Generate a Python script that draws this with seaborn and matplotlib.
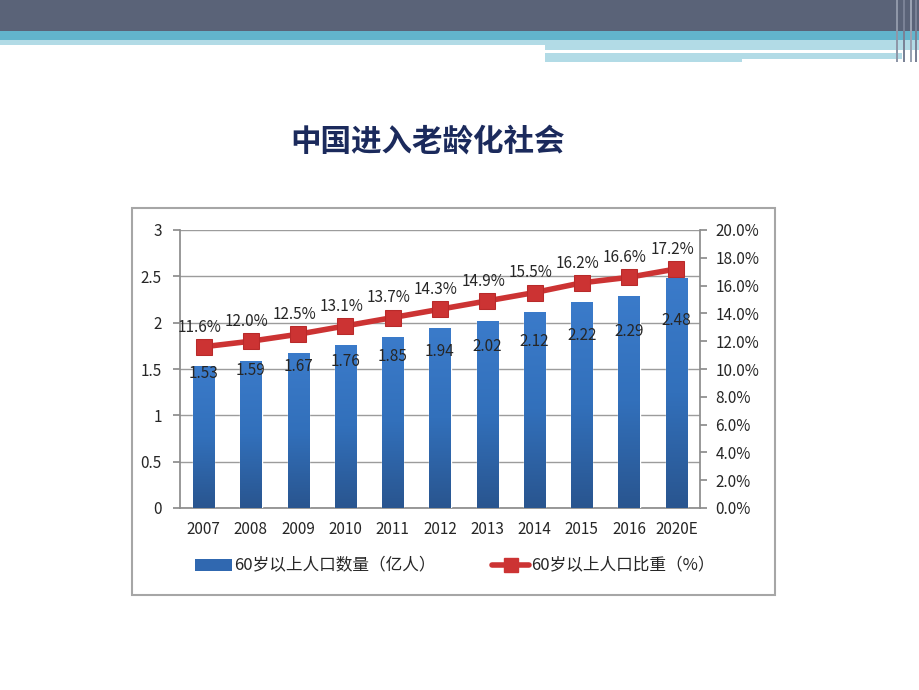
import numpy as np
import pandas as pd
import matplotlib
matplotlib.use("Agg")
import matplotlib.pyplot as plt
from matplotlib.patches import Rectangle
from matplotlib.colors import LinearSegmentedColormap
from matplotlib.lines import Line2D
import seaborn as sns

years = ["2007", "2008", "2009", "2010", "2011", "2012", "2013", "2014", "2015", "2016", "2020E"]
population = [1.53, 1.59, 1.67, 1.76, 1.85, 1.94, 2.02, 2.12, 2.22, 2.29, 2.48]
share_pct = [11.6, 12.0, 12.5, 13.1, 13.7, 14.3, 14.9, 15.5, 16.2, 16.6, 17.2]
left_ticks = [0, 0.5, 1, 1.5, 2, 2.5, 3]
right_ticks = [0, 2, 4, 6, 8, 10, 12, 14, 16, 18, 20]

title = "中国进入老龄化社会"
bar_name = "60岁以上人口数量（亿人）"
line_name = "60岁以上人口比重（%）"

df = pd.DataFrame({"year": years, "pop": population, "share": share_pct})

sns.set_theme(style="white")
plt.rcParams["font.family"] = ["Noto Sans CJK SC", "DejaVu Sans"]

W, H = 920, 690
fig = plt.figure(figsize=(9.2, 6.9), dpi=100)
fig.patch.set_facecolor("white")


def px_rect(x0, y0, x1, y1, color, z=0):
    # rectangle given in image pixels (y from top)
    fig.add_artist(Rectangle((x0 / W, 1 - y1 / H), (x1 - x0) / W, (y1 - y0) / H,
                             transform=fig.transFigure, facecolor=color,
                             edgecolor="none", zorder=z))


# slide header bands
px_rect(0, 0, 920, 31, "#5a6378")
px_rect(0, 31, 920, 40, "#62b4cc")
px_rect(0, 40, 545, 45, "#b2dbe6")
px_rect(545, 40, 920, 50, "#b2dbe6")
px_rect(545, 53, 742, 62, "#b2dbe6")
px_rect(742, 53, 902, 59, "#b2dbe6")
for xs, c in [(896, "#8f97a8"), (903, "#7a8296"), (910, "#9aa2b2"), (915, "#7a8296")]:
    px_rect(xs, 0, xs + 2, 62, c, z=1)

fig.text(428 / W, 1 - 141 / H, title, ha="center", va="center",
         fontsize=22, fontweight="bold", color="#1b2a5c")

# chart frame
fig.add_artist(Rectangle((132 / W, 1 - 595 / H), (775 - 132) / W, (595 - 208) / H,
                         transform=fig.transFigure, facecolor="none",
                         edgecolor="#a6a6a6", linewidth=1.5, zorder=2))

ax = fig.add_axes([180 / W, 1 - 508 / H, 520 / W, 278 / H])
sns.barplot(data=df, x="year", y="pop", ax=ax, color="#3570b8", width=0.45,
            saturation=1, zorder=3)

# vertical gradient on bars
cmap = LinearSegmentedColormap.from_list("barg", ["#29558f", "#3270bb", "#3b7bca"])
grad = np.linspace(0, 1, 256).reshape(-1, 1)
for patch in ax.patches:
    x, y = patch.get_x(), patch.get_y()
    w, h = patch.get_width(), patch.get_height()
    im = ax.imshow(grad, cmap=cmap, extent=[x, x + w, y, y + h], origin="lower",
                   aspect="auto", zorder=3.5)
    im.set_clip_path(patch)
ax.set_xlim(-0.5, len(years) - 0.5)
ax.set_ylim(0, 3)
ax.set_yticks(left_ticks)
ax.set_yticklabels(["0", "0.5", "1", "1.5", "2", "2.5", "3"])
ax.yaxis.grid(True, color="#9c9c9c", linewidth=1)
ax.set_axisbelow(True)
ax.set_xlabel("")
ax.set_ylabel("")
for s in ["top", "right"]:
    ax.spines[s].set_visible(False)
for s in ["left", "bottom"]:
    ax.spines[s].set_color("#8c8c8c")
ax.set_xticks(np.arange(-0.5, len(years)), minor=True)
ax.tick_params(axis="x", which="major", length=0, labelsize=11, colors="#262626", pad=9)
ax.tick_params(axis="x", which="minor", length=5, color="#8c8c8c", direction="out")
ax.tick_params(axis="y", length=5, color="#8c8c8c", direction="out", labelsize=11,
               labelcolor="#262626", left=True, pad=8)

for i, v in enumerate(population):
    ax.text(i, 0.6 * v + 0.53, f"{v:.2f}", ha="center", va="center",
            fontsize=11, color="#262626", zorder=6)

ax2 = ax.twinx()
sns.lineplot(x=np.arange(len(years)), y=share_pct, ax=ax2, color="#cc3333",
             linewidth=4, marker="s", markersize=11, markeredgecolor="#b82a2a",
             legend=False, zorder=5)
ax2.set_ylim(0, 20)
ax2.set_yticks(right_ticks)
ax2.set_yticklabels([f"{t:.1f}%" for t in right_ticks])
ax2.tick_params(axis="y", length=5, color="#8c8c8c", direction="out", labelsize=11,
                labelcolor="#262626", right=True, pad=6)
for s in ["top", "left", "bottom"]:
    ax2.spines[s].set_visible(False)
ax2.spines["right"].set_color("#8c8c8c")
ax2.set_ylabel("")

for i, v in enumerate(share_pct):
    ax2.annotate(f"{v:.1f}%", (i, v), xytext=(-3, 8), textcoords="offset points",
                 ha="center", va="bottom", fontsize=11, color="#262626", zorder=6)

handles = [Rectangle((0, 0), 1, 1, facecolor="#3068b0", edgecolor="none"),
           Line2D([], [], color="#cc3333", linewidth=4, marker="s", markersize=10)]
fig.legend(handles, [bar_name, line_name], ncol=2, loc="center",
           bbox_to_anchor=(455 / W, 1 - 566 / H), frameon=False, fontsize=12,
           handlelength=2.2, handletextpad=0.15, columnspacing=3.4, labelcolor="#262626")

fig.savefig("out.png", dpi=100, facecolor="white")
